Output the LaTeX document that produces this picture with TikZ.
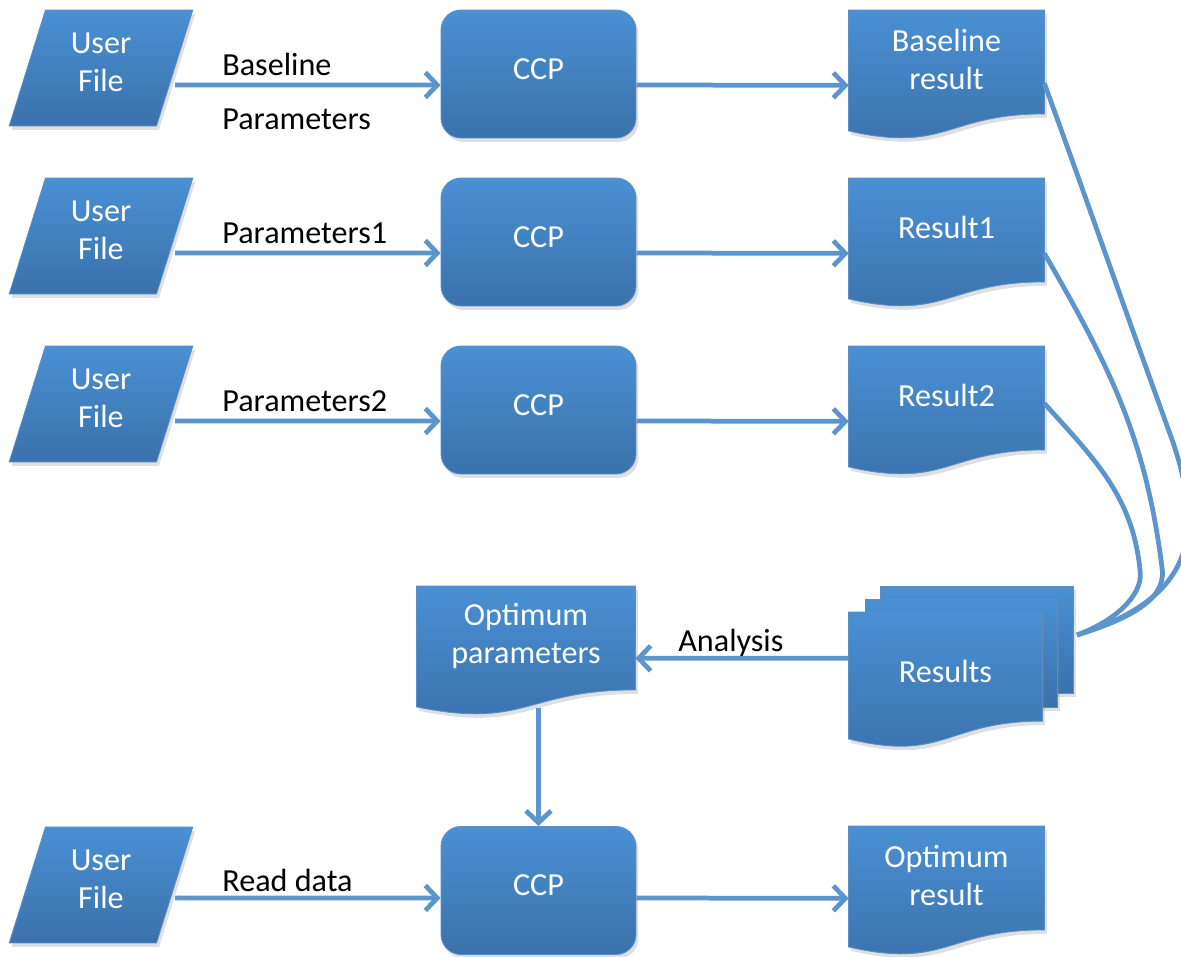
\documentclass[tikz,border=0pt]{standalone}
\usepackage{fontspec}
\setmainfont{Carlito}
\usetikzlibrary{arrows.meta,positioning,calc,shapes.geometric,shadows,backgrounds}

\definecolor{boxtop}{HTML}{4A90D4}
\definecolor{boxbot}{HTML}{3A71AB}
\definecolor{boxedge}{HTML}{5A8FC6}
\definecolor{linkblue}{HTML}{5B95CC}

\newcommand{\boxfont}{\fontsize{18.3}{21.6}\selectfont}

% document outline with wavy bottom, built on a node's text area
\newcommand{\docpath}[1]{%
	(#1.north west) -- (#1.north east) -- ($(#1.north east)!1.042!(#1.south east)$)
	.. controls ($(#1.north)!1.042!(#1.south)$) and ($(#1.north)!1.438!(#1.south)$)
	.. ($(#1.north west)!1.213!(#1.south west)$) -- cycle}

\tikzset{
	boxfill/.style={top color=boxtop, bottom color=boxbot, draw=boxedge, line width=0.5pt,
		drop shadow={shadow xshift=0.5mm, shadow yshift=-0.8mm, opacity=0.25}},
	userfile/.style={boxfill, trapezium, trapezium left angle=74, trapezium right angle=106,
		trapezium stretches=true, minimum width=3.68cm, minimum height=2.32cm,
		text=white, align=center, text depth=0.24cm, font=\boxfont},
	ccp/.style={boxfill, rectangle, rounded corners=0.4cm, minimum width=3.9cm,
		minimum height=2.56cm, text=white, text depth=0.2cm, font=\boxfont},
	doc/.style={rectangle, anchor=north, minimum width=3.9cm, minimum height=1.98cm,
		text=white, align=center, font=\boxfont},
	lbl/.style={anchor=base west, inner sep=0pt, font=\boxfont},
	flow/.style={draw=linkblue, line width=0.095cm, -{Straight Barb[length=2.4mm,width=5mm]}},
	link/.style={draw=linkblue, line width=0.095cm},
}

\begin{document}
\begin{tikzpicture}[x=0.02cm, y=-0.02cm]
	\useasboundingbox (0,0) rectangle (1181,957);
	
	% row 1
	\node[userfile] (uf1) at (101,68) {User\\File};
	\node[ccp] (ccp1) at (538.5,74) {CCP};
	\node[doc] (br) at (946.5,10) {Baseline\\result};
	\node[lbl] (lb1a) at (222,75) {Baseline};
	\node[lbl] (lb1b) at (222,129) {Parameters};
	
	% row 2
	\node[userfile] (uf2) at (101,236) {User\\File};
	\node[ccp] (ccp2) at (538.5,242) {CCP};
	\node[doc] (r1) at (946.5,178) {Result1};
	\node[lbl] (lb2) at (222,243) {Parameters1};
	
	% row 3
	\node[userfile] (uf3) at (101,404) {User\\File};
	\node[ccp] (ccp3) at (538.5,410) {CCP};
	\node[doc] (r2) at (946.5,346) {Result2};
	\node[lbl] (lb3) at (222,411) {Parameters2};
	
	% analysis
	\node[doc, minimum width=4.36cm] (opt) at (526,586) {Optimum\\parameters};
	\node[doc, minimum width=3.86cm, minimum height=2.08cm, text height=0.72cm] (res) at (945.5,612) {Results};
	\coordinate (resin) at (1077,635);
	\node[lbl] (lb5) at (678,651) {Analysis};
	
	% row 4
	\node[userfile] (uf4) at (101,885) {User\\File};
	\node[ccp] (ccp4) at (538.5,890.5) {CCP};
	\node[doc] (optres) at (946.5,826) {Optimum\\result};
	\node[lbl] (lb4) at (222,891) {Read data};
	
	% document shapes behind the texts
	\begin{scope}[on background layer]
		\path[boxfill] \docpath{br};
		\path[boxfill] \docpath{r1};
		\path[boxfill] \docpath{r2};
		\path[boxfill] \docpath{opt};
		\path[boxfill] \docpath{optres};
		\path[boxfill] (880,586) rectangle (1073,693);
		\path[boxfill] (865,599) rectangle (1057,707);
		\path[boxfill] \docpath{res};
	\end{scope}
	
	% arrows
	\draw[flow] ($(uf1.east)+(0,17)$) -- ($(ccp1.west)+(0,11)$);
	\draw[flow] ($(uf2.east)+(0,17)$) -- ($(ccp2.west)+(0,11)$);
	\draw[flow] ($(uf3.east)+(0,17)$) -- ($(ccp3.west)+(0,11)$);
	\draw[flow] ($(uf4.east)+(0,13)$) -- ($(ccp4.west)+(0,7.5)$);
	\draw[flow] ($(ccp1.east)+(0,11)$) -- ($(br.west)+(0,25.5)$);
	\draw[flow] ($(ccp2.east)+(0,11)$) -- ($(r1.west)+(0,25.5)$);
	\draw[flow] ($(ccp3.east)+(0,11)$) -- ($(r2.west)+(0,25.5)$);
	\draw[flow] ($(ccp4.east)+(0,7.5)$) -- ($(optres.west)+(0,22.5)$);
	\draw[flow] ($(res.west)+(0,-6)$) -- ($(opt.east)+(0,22.5)$);
	\draw[flow] ($(opt.south -| ccp4.north)+(0,22)$) -- (ccp4.north);
	
	% results gathered
	\draw[link] ($(br.east)+(0,23.5)$) to[out=-70,in=110] ++(128,357)
		.. controls +(34,100) and +(113,-36) .. (resin);
	\draw[link] ($(r1.east)+(0,25.5)$) to[out=-60,in=97] ++(118,317)
		.. controls +(3,32) and +(45,-14) .. (resin);
	\draw[link] ($(r2.east)+(0,7.5)$) to[out=-48,in=95] ++(96,170)
		.. controls +(1,22) and +(40,-15) .. (resin);
\end{tikzpicture}
\end{document}
